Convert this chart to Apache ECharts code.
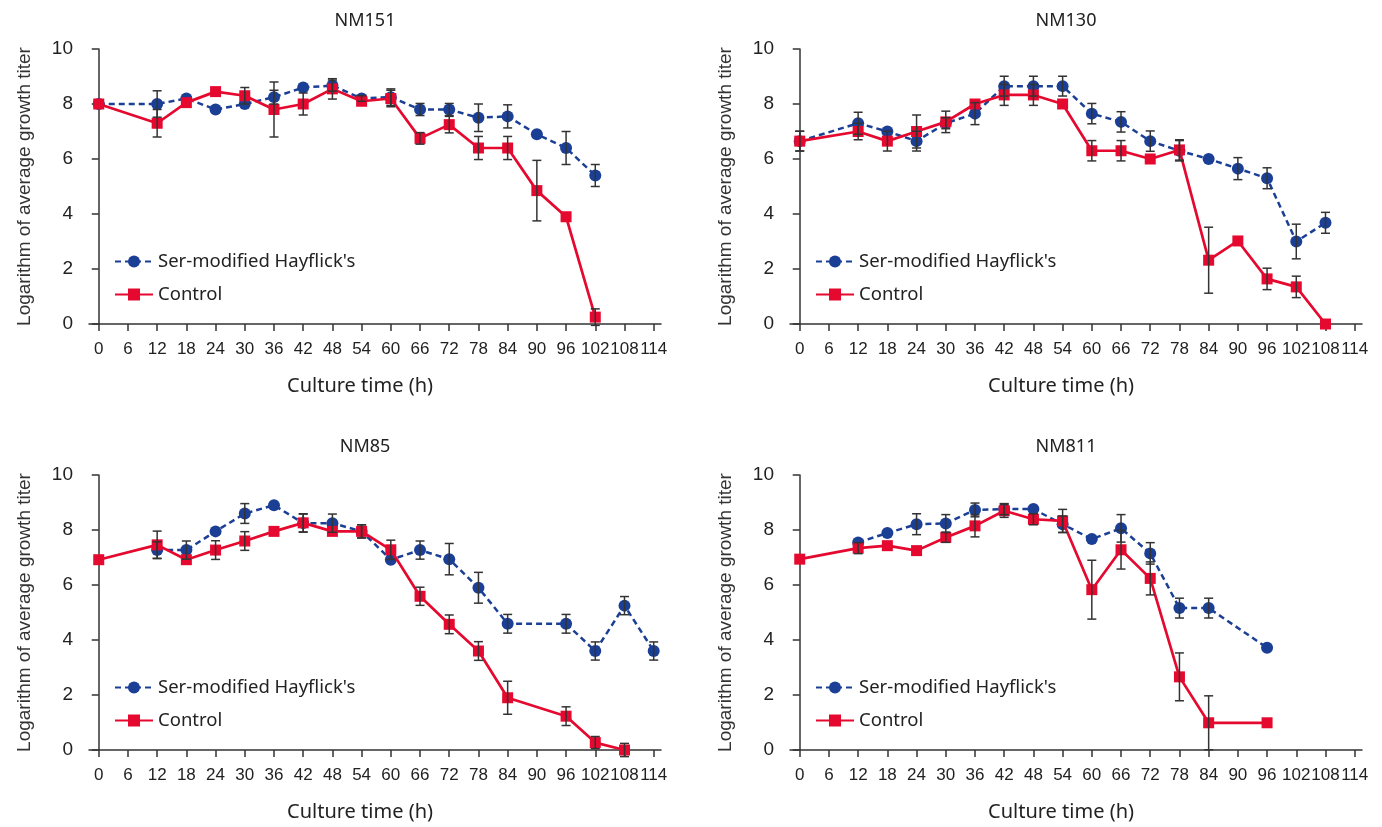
<!DOCTYPE html>
<html>
<head>
<meta charset="utf-8">
<script src="https://cdn.jsdelivr.net/npm/echarts@6/dist/echarts.min.js"></script>
<style>
  html, body { margin: 0; padding: 0; background: #fff; }
  #chart { width: 1382px; height: 827px; }
</style>
</head>
<body>
<div id="chart"></div>
<script>
// culture hours (6 h never sampled)
const hours = [0, 12, 18, 24, 30, 36, 42, 48, 54, 60, 66, 72, 78, 84, 90, 96, 102, 108, 114];
const tickHours = [0, 6, 12, 18, 24, 30, 36, 42, 48, 54, 60, 66, 72, 78, 84, 90, 96, 102, 108, 114];
const titles = ['NM151', 'NM130', 'NM85', 'NM811'];
const names = ["Ser-modified Hayflick's", 'Control'];

// NM151
const nm151Ser = [8.0, 8.0, 8.2, 7.8, 8.0, 8.25, 8.6, 8.67, 8.2, 8.25, 7.8, 7.8, 7.5, 7.55, 6.9, 6.4, 5.4, null, null];
const nm151SerErr = [0, 0.48, 0, 0, 0, 0.25, 0, 0.2, 0.1, 0.3, 0.22, 0.22, 0.5, 0.42, 0, 0.6, 0.4, null, null];
const nm151Ctl = [8.0, 7.3, 8.05, 8.45, 8.3, 7.8, 8.0, 8.55, 8.1, 8.2, 6.75, 7.25, 6.4, 6.4, 4.85, 3.9, 0.25, null, null];
const nm151CtlErr = [0, 0.5, 0, 0, 0.3, 1.0, 0.4, 0.37, 0, 0.3, 0.21, 0.3, 0.42, 0.42, 1.1, 0, 0.3, null, null];

// NM130
const nm130Ser = [6.65, 7.3, 7.0, 6.65, 7.3, 7.65, 8.65, 8.65, 8.65, 7.65, 7.35, 6.65, 6.3, 6.0, 5.65, 5.3, 3.0, 3.68, null];
const nm130SerErr = [0.36, 0.4, 0, 0.36, 0.2, 0.4, 0.36, 0.36, 0.36, 0.37, 0.37, 0.37, 0.37, 0, 0.4, 0.38, 0.63, 0.38, null];
const nm130Ctl = [6.65, 7.0, 6.65, 7.0, 7.35, 8.0, 8.33, 8.33, 8.0, 6.3, 6.3, 6.0, 6.33, 2.32, 3.02, 1.64, 1.35, 0.0, null];
const nm130CtlErr = [0.36, 0.3, 0.36, 0.6, 0.39, 0, 0.38, 0.38, 0, 0.37, 0.37, 0, 0.37, 1.2, 0, 0.39, 0.39, 0, null];

// NM85
const nm85Ser = [null, 7.27, 7.27, 7.95, 8.6, 8.9, 8.25, 8.25, 7.95, 6.92, 7.27, 6.94, 5.9, 4.59, null, 4.59, 3.6, 5.25, 3.6];
const nm85SerErr = [null, 0.3, 0.33, 0, 0.36, 0, 0.33, 0.33, 0.24, 0, 0.33, 0.57, 0.56, 0.34, null, 0.34, 0.33, 0.33, 0.33];
const nm85Ctl = [6.92, 7.46, 6.92, 7.27, 7.6, 7.95, 8.26, 7.95, 7.95, 7.28, 5.59, 4.57, 3.6, 1.9, null, 1.23, 0.27, 0.0, null];
const nm85CtlErr = [0, 0.5, 0, 0.34, 0.34, 0, 0.33, 0, 0.24, 0.35, 0.33, 0.34, 0.34, 0.6, null, 0.34, 0.22, 0.24, null];

// NM811
const nm811Ser = [null, 7.55, 7.89, 8.21, 8.24, 8.73, 8.76, 8.76, 8.21, 7.67, 8.06, 7.15, 5.16, 5.16, null, 3.72, null, null, null];
const nm811SerErr = [null, 0, 0, 0.38, 0.32, 0.25, 0.2, 0, 0.3, 0, 0.5, 0.39, 0.36, 0.36, null, 0, null, null, null];
const nm811Ctl = [6.94, 7.34, 7.43, 7.25, 7.73, 8.15, 8.7, 8.39, 8.33, 5.83, 7.28, 6.24, 2.66, 0.99, null, 0.99, null, null, null];
const nm811CtlErr = [0, 0.2, 0, 0, 0.18, 0.4, 0.24, 0.2, 0.42, 1.07, 0.7, 0.6, 0.87, 0.98, null, 0, null, null, null];

const panels = [
  [nm151Ser, nm151SerErr, nm151Ctl, nm151CtlErr],
  [nm130Ser, nm130SerErr, nm130Ctl, nm130CtlErr],
  [nm85Ser, nm85SerErr, nm85Ctl, nm85CtlErr],
  [nm811Ser, nm811SerErr, nm811Ctl, nm811CtlErr]
];

const blue = '#1b3f95';
const red = '#e5092f';
const textColor = '#222';
const tickFont = 'Liberation Sans, Arial, sans-serif';
const nameFont = 'Noto Sans, sans-serif';

// grid placement: [left, top]
const gridPos = [[89, 49], [790, 49], [89, 475], [790, 475]];
const gridW = 572, gridH = 275;

const pairs = (vals) => hours.map((h, i) => [h, vals[i]]);
const errPairs = (vals, errs) => hours
  .map((h, i) => [h, vals[i], errs[i]])
  .filter(d => d[1] != null && d[2] != null && d[2] > 0);

function renderErr(params, api) {
  const x = api.value(0), y = api.value(1), e = api.value(2);
  const top = api.coord([x, y + e]);
  const bot = api.coord([x, y - e]);
  const hw = 4.5;
  const st = {stroke: '#333', lineWidth: 1.5};
  return {
    type: 'group',
    children: [
      {type: 'line', shape: {x1: top[0], y1: top[1], x2: bot[0], y2: bot[1]}, style: st},
      {type: 'line', shape: {x1: top[0] - hw, y1: top[1], x2: top[0] + hw, y2: top[1]}, style: st},
      {type: 'line', shape: {x1: bot[0] - hw, y1: bot[1], x2: bot[0] + hw, y2: bot[1]}, style: st}
    ]
  };
}

let grids = [], xAxes = [], yAxes = [], series = [], titleList = [], legends = [];

panels.forEach((p, k) => {
  const [left, top] = gridPos[k];
  grids.push({left: left, top: top, width: gridW, height: gridH});
  titleList.push({
    text: titles[k],
    left: left + gridW / 2 - 15, top: top - 42,
    textAlign: 'center',
    textStyle: {fontFamily: nameFont, fontSize: 18, fontWeight: 'normal', color: textColor}
  });
  xAxes.push({
    gridIndex: k, type: 'value', min: -2, max: 115.5,
    name: 'Culture time (h)', nameLocation: 'middle', nameGap: 52,
    nameTextStyle: {fontFamily: nameFont, fontSize: 20, color: textColor, padding: [0, 30, 0, 0]},
    axisLine: {lineStyle: {color: '#333', width: 1.5}},
    axisTick: {show: true, length: 7, customValues: tickHours, lineStyle: {color: '#333', width: 1.5}},
    axisLabel: {customValues: tickHours, margin: 17, fontFamily: tickFont, fontSize: 17, color: textColor},
    splitLine: {show: false}
  });
  yAxes.push({
    gridIndex: k, type: 'value', min: 0, max: 10, interval: 2,
    name: 'Logarithm of average growth titer', nameLocation: 'middle', nameGap: 55,
    nameTextStyle: {fontFamily: tickFont, fontSize: 19, color: '#333'},
    axisLine: {show: true, lineStyle: {color: '#333', width: 1.5}},
    axisTick: {show: true, length: 7, lineStyle: {color: '#333', width: 1.5}},
    axisLabel: {margin: 16, fontFamily: tickFont, fontSize: 19, color: textColor},
    splitLine: {show: false}
  });
  legends.push({
    orient: 'vertical', left: left + 20, top: top + 198,
    itemWidth: 38, itemHeight: 15, itemGap: 14,
    textStyle: {fontFamily: nameFont, fontSize: 18.5, color: textColor},
    data: names
  });
  series.push(
    {
      name: names[0], type: 'line', xAxisIndex: k, yAxisIndex: k,
      data: pairs(p[0]), connectNulls: true,
      symbol: 'circle', symbolSize: 12,
      lineStyle: {color: blue, width: 2.5, type: [6, 4]},
      itemStyle: {color: blue},
      z: 3
    },
    {
      name: names[1], type: 'line', xAxisIndex: k, yAxisIndex: k,
      data: pairs(p[2]), connectNulls: true,
      symbol: 'rect', symbolSize: 11,
      lineStyle: {color: red, width: 2.7},
      itemStyle: {color: red},
      z: 4
    },
    {
      type: 'custom', xAxisIndex: k, yAxisIndex: k,
      data: errPairs(p[0], p[1]), renderItem: renderErr,
      encode: {x: 0, y: 1}, silent: true, clip: false, z: 5
    },
    {
      type: 'custom', xAxisIndex: k, yAxisIndex: k,
      data: errPairs(p[2], p[3]), renderItem: renderErr,
      encode: {x: 0, y: 1}, silent: true, clip: false, z: 5
    }
  );
});

const chart = echarts.init(document.getElementById('chart'));
chart.setOption({
  animation: false,
  backgroundColor: '#fff',
  title: titleList,
  legend: legends,
  grid: grids,
  xAxis: xAxes,
  yAxis: yAxes,
  series: series
});
</script>
</body>
</html>
